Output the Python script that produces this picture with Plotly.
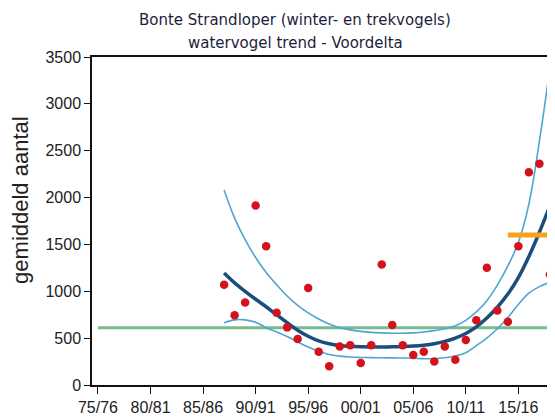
import plotly.graph_objects as go

# seasons are plotted at their starting year (75/76 -> 1975)
YEARS = list(range(1987, 2019))

COUNTS = [1070, 745, 880, 1915, 1480, 770, 615, 490, 1035, 355,
          200, 410, 425, 235, 425, 1285, 640, 425, 320, 355,
          250, 410, 270, 480, 690, 1250, 795, 675, 1480, 2270,
          2360, 1180]

TREND = [1195, 1090, 1000, 915, 835, 750, 665, 585, 520, 470,
         440, 422, 413, 408, 406, 406, 407, 410, 415, 425,
         440, 465, 500, 550, 620, 715, 830, 970, 1145, 1370,
         1630, 1910]

UPPER = [2080, 1780, 1550, 1360, 1200, 1070, 950, 850, 770, 705,
         650, 612, 588, 572, 562, 556, 552, 552, 556, 565,
         580, 600, 632, 690, 780, 900, 1065, 1270, 1520, 1930,
         2600, 3380]

LOWER = [665, 695, 695, 670, 612, 565, 518, 460, 405, 360,
         325, 308, 298, 294, 292, 290, 289, 288, 285, 281,
         280, 290, 310, 345, 420, 500, 600, 720, 860, 980,
         1050, 1095]

BASELINE_YEARS = [1975, 2018]
BASELINE_VALUE = 610

TARGET_YEARS = [2014, 2018]
TARGET_VALUE = 1600

TICK_YEARS = list(range(1975, 2020, 5))
TICK_TEXT = ['75/76', '80/81', '85/86', '90/91', '95/96',
             '00/01', '05/06', '10/11', '15/16']

RED = '#d3121b'
DARK_BLUE = '#1a4f7c'
LIGHT_BLUE = '#4da6cf'
GREEN = '#76bb92'
ORANGE = '#f7a21b'

fig = go.Figure()

fig.add_trace(go.Scatter(
    x=BASELINE_YEARS,
    y=[BASELINE_VALUE] * len(BASELINE_YEARS),
    mode='lines',
    line={'color': GREEN, 'width': 3},
))
for band in (UPPER, LOWER):
    fig.add_trace(go.Scatter(
        x=YEARS, y=band, mode='lines',
        line={'color': LIGHT_BLUE, 'width': 1.6, 'shape': 'spline'},
    ))
fig.add_trace(go.Scatter(
    x=YEARS, y=TREND, mode='lines',
    line={'color': DARK_BLUE, 'width': 3.5, 'shape': 'spline'},
))
fig.add_trace(go.Scatter(
    x=TARGET_YEARS,
    y=[TARGET_VALUE] * len(TARGET_YEARS),
    mode='lines',
    line={'color': ORANGE, 'width': 5},
))
fig.add_trace(go.Scatter(
    x=YEARS, y=COUNTS, mode='markers',
    marker={'color': RED, 'size': 8.5, 'line': {'width': 0}},
))

# the page body has an 8px margin, so the figure is 8px smaller
fig.update_layout(
    width=547,
    height=409,
    margin={'l': 84, 'r': 1, 't': 49, 'b': 29},
    plot_bgcolor='white',
    paper_bgcolor='white',
    showlegend=False,
    font={'family': 'Liberation Sans, Arial, sans-serif', 'size': 16, 'color': '#222'},
    xaxis={
        'range': [1974.43, 2018.2],
        'tickmode': 'array',
        'tickvals': TICK_YEARS,
        'ticktext': TICK_TEXT,
        'ticks': 'outside',
        'ticklen': 7,
        'tickcolor': '#111',
        'showgrid': False,
        'zeroline': False,
        'showline': True,
        'linecolor': '#111',
        'linewidth': 1.5,
        'mirror': True,
    },
    yaxis={
        'range': [0, 3500],
        'dtick': 500,
        'ticks': 'outside',
        'ticklen': 6,
        'tickcolor': '#111',
        'showgrid': False,
        'zeroline': False,
        'showline': True,
        'linecolor': '#111',
        'linewidth': 1.5,
        'mirror': True,
    },
    annotations=[
        {'text': 'Bonte Strandloper (winter- en trekvogels)',
         'xref': 'paper', 'yref': 'paper', 'x': 0.4416, 'y': 1.112,
         'xanchor': 'center', 'yanchor': 'middle', 'showarrow': False,
         'font': {'family': 'DejaVu Sans', 'size': 15, 'color': '#1e1e3c'}},
        {'text': 'watervogel trend - Voordelta',
         'xref': 'paper', 'yref': 'paper', 'x': 0.4416, 'y': 1.042,
         'xanchor': 'center', 'yanchor': 'middle', 'showarrow': False,
         'font': {'family': 'DejaVu Sans', 'size': 15, 'color': '#1e1e3c'}},
        {'text': 'gemiddeld aantal',
         'xref': 'paper', 'yref': 'paper', 'x': -0.156, 'y': 0.565,
         'xanchor': 'center', 'yanchor': 'middle', 'textangle': -90,
         'showarrow': False,
         'font': {'family': 'Liberation Sans, Arial', 'size': 22, 'color': '#222'}},
    ],
)

fig.write_html('out.html')
